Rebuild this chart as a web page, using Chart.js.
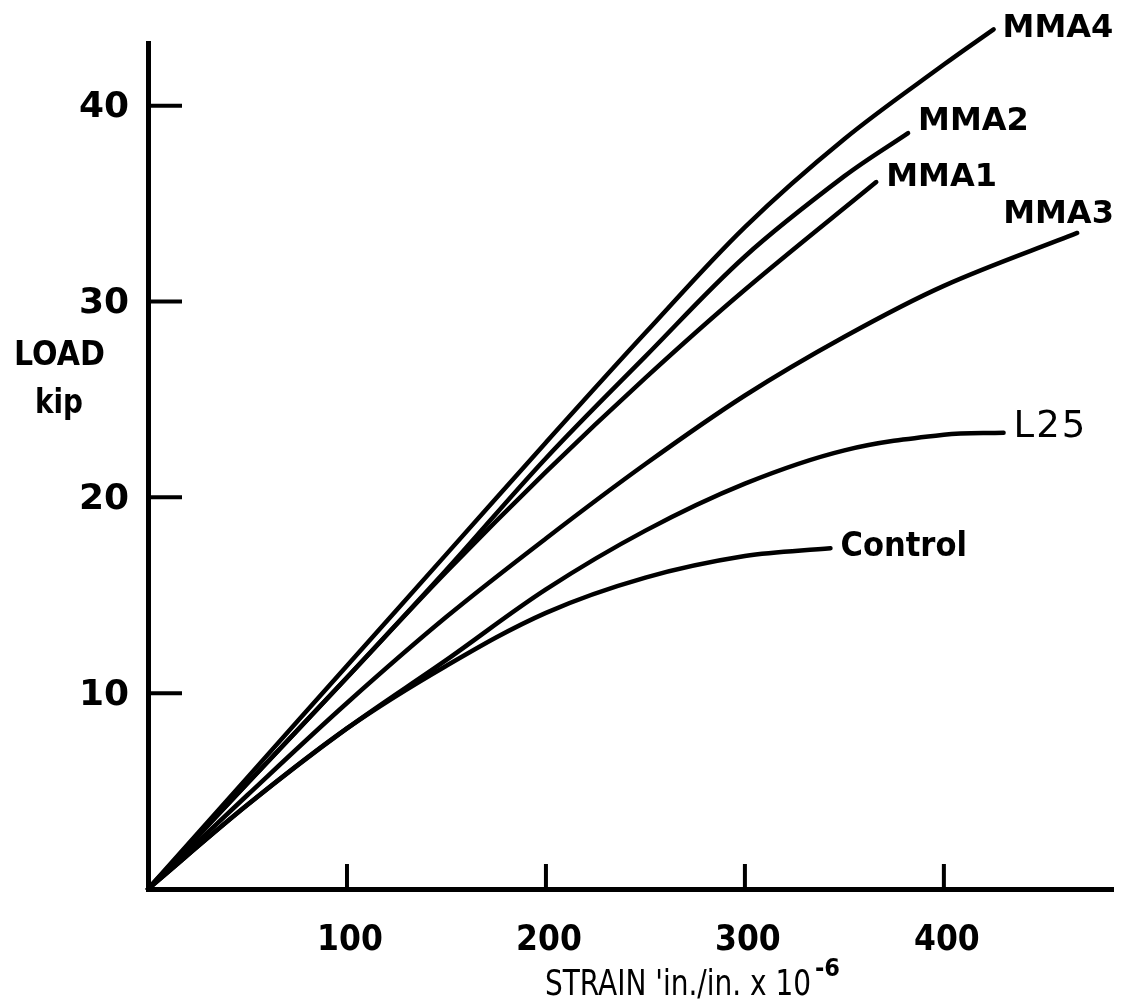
<!DOCTYPE html>
<html>
<head>
<meta charset="utf-8">
<script src="https://cdn.jsdelivr.net/npm/chart.js@4/dist/chart.umd.min.js"></script>
<style>
  html, body { margin: 0; padding: 0; background: #fff; }
  canvas { display: block; }
</style>
</head>
<body>
<canvas id="loadStrainChart" width="1147" height="1006"></canvas>
<script>
// values (strain in 1e-6 in./in., load in kip)
const strainMMA4 = [0, 50, 100, 150, 200, 250, 300, 350, 400, 425];
const loadMMA4   = [0, 5.7, 11.4, 17.1, 22.8, 28.4, 33.8, 38.3, 42.1, 43.9];

const strainMMA2 = [0, 50, 100, 150, 200, 250, 300, 350, 382];
const loadMMA2   = [0, 5.4, 10.8, 16.3, 22.0, 27.2, 32.3, 36.4, 38.6];

const strainMMA1 = [0, 50, 100, 150, 200, 250, 300, 366];
const loadMMA1   = [0, 5.4, 10.8, 16.2, 21.3, 26.1, 30.6, 36.1];

const strainMMA3 = [0, 50, 100, 150, 200, 250, 300, 350, 400, 467];
const loadMMA3   = [0, 4.8, 9.5, 13.9, 17.9, 21.7, 25.2, 28.2, 30.8, 33.5];

const strainL25 = [0, 50, 100, 150, 200, 250, 300, 350, 400, 430];
const loadL25   = [0, 4.3, 8.2, 11.7, 15.3, 18.3, 20.7, 22.4, 23.2, 23.3];

const strainControl = [0, 50, 100, 150, 200, 250, 300, 343];
const loadControl   = [0, 4.3, 8.2, 11.4, 14.1, 15.9, 17.0, 17.4];

const seriesNames = ['MMA4', 'MMA2', 'MMA1', 'MMA3', 'L25', 'Control'];
const xTickValues = [100, 200, 300, 400];
const yTickValues = [10, 20, 30, 40];

const pairs = (xs, ys) => xs.map((x, i) => ({ x, y: ys[i] }));

const seriesData = [
  pairs(strainMMA4, loadMMA4),
  pairs(strainMMA2, loadMMA2),
  pairs(strainMMA1, loadMMA1),
  pairs(strainMMA3, loadMMA3),
  pairs(strainL25, loadL25),
  pairs(strainControl, loadControl)
];

const boldFont = '"DejaVu Sans"';
const narrowFont = '"DejaVu Sans Condensed", "Liberation Sans Narrow"';

// where each curve's name sits relative to its end point
const labelStyle = {
  MMA4:    { dx: 9, dy: -1, font: 'bold 32px ' + boldFont },
  MMA2:    { dx: 10, dy: -11, font: 'bold 32px ' + boldFont },
  MMA1:    { dx: 10, dy: -4, font: 'bold 32px ' + boldFont },
  MMA3:    { dx: -74, dy: -18, font: 'bold 32px ' + boldFont },
  L25:     { dx: 10, dy: -5, font: '37px ' + boldFont },
  Control: { dx: 10, dy: -1, font: 'bold 34px ' + narrowFont }
};

function fitText(ctx, text, x, y, width) {
  const w = ctx.measureText(text).width;
  ctx.save();
  ctx.translate(x, y);
  ctx.scale(width / w, 1);
  ctx.fillText(text, 0, 0);
  ctx.restore();
}

const annotations = {
  id: 'annotations',
  afterDraw(chart) {
    const ctx = chart.ctx;
    const xs = chart.scales.x;
    const ys = chart.scales.y;
    const area = chart.chartArea;
    ctx.save();
    ctx.strokeStyle = '#000';
    ctx.fillStyle = '#000';
    ctx.lineWidth = 4;

    // inward ticks on the y axis
    ctx.font = 'bold 36px ' + boldFont;
    ctx.textAlign = 'right';
    ctx.textBaseline = 'middle';
    yTickValues.forEach(v => {
      const py = ys.getPixelForValue(v);
      ctx.beginPath();
      ctx.moveTo(area.left, py);
      ctx.lineTo(area.left + 34, py);
      ctx.stroke();
      ctx.fillText(String(v), area.left - 19, py + 2);
    });

    // inward ticks on the x axis
    ctx.font = 'bold 35px ' + narrowFont;
    ctx.textAlign = 'center';
    xTickValues.forEach(v => {
      const px = xs.getPixelForValue(v);
      ctx.beginPath();
      ctx.moveTo(px, area.bottom);
      ctx.lineTo(px, area.bottom - 25);
      ctx.stroke();
      ctx.fillText(String(v), px + 3, area.bottom + 52);
    });

    // axis titles
    ctx.textAlign = 'left';
    ctx.font = 'bold 33px ' + boldFont;
    fitText(ctx, 'LOAD', 14, 356, 91);
    fitText(ctx, 'kip', 35, 404, 48);

    ctx.font = '36px ' + narrowFont;
    fitText(ctx, "STRAIN 'in./in. x 10", 545, 986, 266);
    ctx.font = 'bold 25px ' + narrowFont;
    ctx.fillText('-6', 815, 969);

    // curve names at the ends of the curves
    ctx.textAlign = 'left';
    seriesNames.forEach((name, i) => {
      const pts = seriesData[i];
      const last = pts[pts.length - 1];
      const px = xs.getPixelForValue(last.x);
      const py = ys.getPixelForValue(last.y);
      const st = labelStyle[name];
      ctx.font = st.font;
      ctx.letterSpacing = name === 'L25' ? '2px' : '0px';
      ctx.fillText(name, px + st.dx, py + st.dy);
    });
    ctx.letterSpacing = '0px';

    ctx.restore();
  }
};

new Chart(document.getElementById('loadStrainChart').getContext('2d'), {
  type: 'line',
  data: {
    datasets: seriesNames.map((name, i) => ({
      label: name,
      data: seriesData[i],
      borderColor: '#000',
      borderWidth: 4.5,
      borderCapStyle: 'round',
      pointRadius: 0,
      fill: false,
      tension: 0.35,
      clip: false
    }))
  },
  options: {
    responsive: false,
    animation: false,
    devicePixelRatio: 1,
    layout: { padding: { left: 148, right: 34, top: 43, bottom: 117 } },
    scales: {
      x: {
        type: 'linear',
        min: 0,
        max: 485,
        ticks: { display: false },
        grid: { display: false, drawTicks: false },
        border: { display: true, color: '#000', width: 5 }
      },
      y: {
        type: 'linear',
        min: 0,
        max: 43.2,
        ticks: { display: false },
        grid: { display: false, drawTicks: false },
        border: { display: true, color: '#000', width: 5 }
      }
    },
    plugins: {
      legend: { display: false },
      tooltip: { enabled: false }
    }
  },
  plugins: [annotations]
});
</script>
</body>
</html>
